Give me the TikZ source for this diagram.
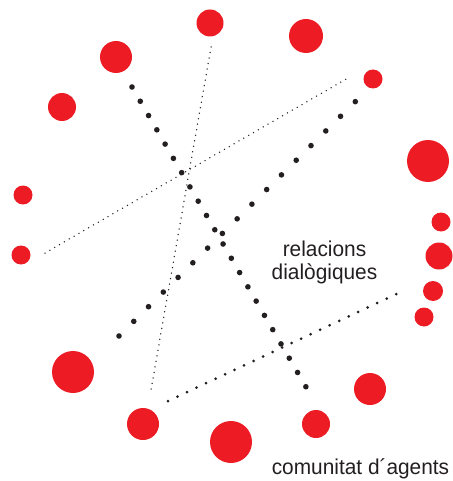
\documentclass[tikz,border=0pt]{standalone}
\usepackage{fontspec}
\setmainfont{Liberation Sans}[FakeStretch=0.97]
\usetikzlibrary{positioning}
\definecolor{agentred}{HTML}{ED1C24}
\definecolor{inkgray}{HTML}{231F20}
\tikzset{
  agent/.style={circle,fill=agentred,inner sep=0pt,minimum size=#1},
  agent/.default=20,
  finedots/.style={inkgray,line width=1.5pt,line cap=round,dash pattern=on 0pt off 5.6pt},
  middots/.style={inkgray,line width=3pt,line cap=round,dash pattern=on 0pt off 10.5pt},
  bigdots/.style={inkgray,line width=5.6pt,line cap=round,dash pattern=on 0pt off #1},
  bigdots/.default=16.5pt,
  label/.style={inkgray,inner sep=0pt,font=\fontsize{21.5}{23}\selectfont}
}

\begin{document}
\begin{tikzpicture}[x=1pt,y=-1pt]
  \useasboundingbox (0,0) rectangle (452,481);

  % agents around the ring
  \node[agent=27] (a1) at (210,23) {};
  \node[agent=34] (a2) at (306,36) {};
  \node[agent=32] (a3) at (116,57) {};
  \node[agent=28] (a4) at (62,107) {};
  \node[agent=19] (a5) at (373,79) {};
  \node[agent=42] (a6) at (428,161) {};
  \node[agent=19] (a7) at (23,195) {};
  \node[agent=19] (a8) at (21,255) {};
  \node[agent=19] (a9) at (441,222) {};
  \node[agent=27] (a10) at (439,256) {};
  \node[agent=20] (a11) at (433,291) {};
  \node[agent=19] (a12) at (424,317) {};
  \node[agent=42] (a13) at (73,372) {};
  \node[agent=32] (a14) at (143,424) {};
  \node[agent=42] (a15) at (231,442) {};
  \node[agent=32] (a16) at (370,389) {};
  \node[agent=28] (a17) at (316,424) {};

  % end points of the relations
  \coordinate (r1s) at (211,47);
  \coordinate (r1e) at (151,390);
  \coordinate (r2s) at (132,87);
  \coordinate (r2e) at (306,387);
  \coordinate (r3s) at (45,253);
  \coordinate (r3e) at (348,78);
  \coordinate (r4s) at (119,336);
  \coordinate (r4e) at (362,95);
  \coordinate (r5s) at (168,401);
  \coordinate (r5e) at (405,290);

  \draw[finedots] (r1s) -- (r1e);
  \draw[bigdots] (r2s) -- (r2e);
  \draw[finedots] (r3s) -- (r3e);
  \draw[bigdots=20.8pt] (r4s) -- (r4e);
  \draw[middots] (r5s) -- (r5e);

  \node[label,align=center,anchor=north] (rel) at (324.5,241) {relacions\\dialògiques};
  \node[label,anchor=base] (com) at (360.5,474) {comunitat d´agents};
\end{tikzpicture}
\end{document}
